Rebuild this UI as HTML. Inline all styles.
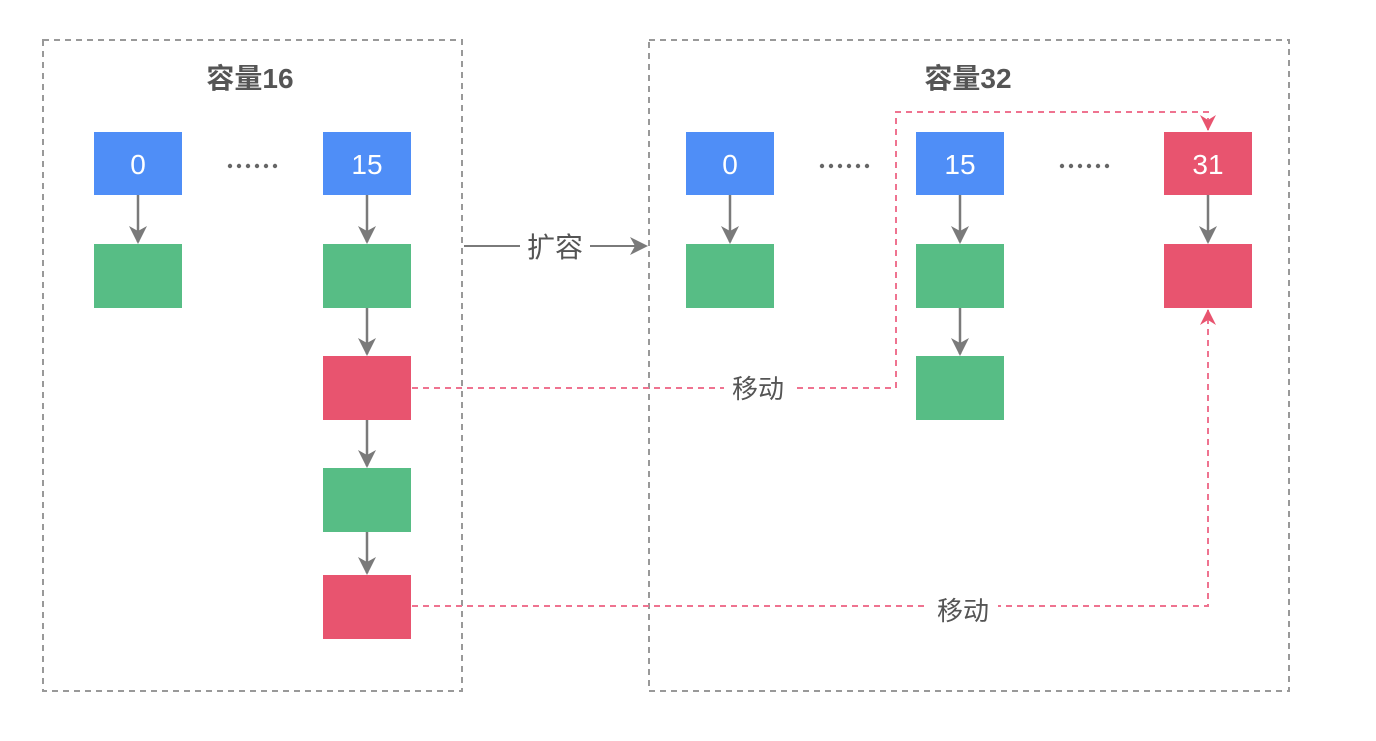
<!DOCTYPE html>
<html><head><meta charset="utf-8"><style>
body{margin:0;background:#fff;}
svg text{font-family:"Liberation Sans","Noto Sans CJK SC",sans-serif;}
</style></head><body>
<svg width="1376" height="736" viewBox="0 0 1376 736" xmlns="http://www.w3.org/2000/svg">
<defs>
<marker id="gb" markerWidth="18" markerHeight="18" refX="16" refY="9" orient="auto" markerUnits="userSpaceOnUse"><path d="M0,0 L18,9 L0,18 L5,9 Z" fill="#7a7a7a"/></marker>
<marker id="pa" markerWidth="16" markerHeight="16" refX="15" refY="8" orient="auto" markerUnits="userSpaceOnUse"><path d="M0,0 L16,8 L0,16 L5,8 Z" fill="#e8546f"/></marker>
<g id="d" fill="#666"><circle cx="0" cy="0" r="2.2"/><circle cx="9" cy="0" r="2.2"/><circle cx="18" cy="0" r="2.2"/><circle cx="27" cy="0" r="2.2"/><circle cx="36" cy="0" r="2.2"/><circle cx="45" cy="0" r="2.2"/></g>
</defs>
<g fill="none" stroke="#999" stroke-width="2" stroke-dasharray="6,5">
<rect x="43" y="40" width="419" height="651"/>
<rect x="649" y="40" width="640" height="651"/>
</g>
<text x="250" y="88" font-size="28" fill="#555" font-weight="bold" text-anchor="middle">容量16</text>
<text x="968" y="88" font-size="28" fill="#555" font-weight="bold" text-anchor="middle">容量32</text>
<g fill="none" stroke="#ef7390" stroke-width="2" stroke-dasharray="6,5">
<path d="M412,388 H896 V112 H1208 V130" marker-end="url(#pa)"/>
<path d="M412,606 H1208 V310" marker-end="url(#pa)"/>
</g>
<rect x="724" y="372" width="70" height="32" fill="#fff"/>
<rect x="928" y="592" width="70" height="32" fill="#fff"/>
<text x="758" y="398" font-size="26" fill="#555" text-anchor="middle">移动</text>
<text x="963" y="620" font-size="26" fill="#555" text-anchor="middle">移动</text>
<g stroke="#7a7a7a" stroke-width="2.5" fill="none">
<line x1="138" y1="195" x2="138" y2="242" marker-end="url(#gb)"/>
<line x1="367" y1="195" x2="367" y2="242" marker-end="url(#gb)"/>
<line x1="367" y1="308" x2="367" y2="354" marker-end="url(#gb)"/>
<line x1="367" y1="420" x2="367" y2="466" marker-end="url(#gb)"/>
<line x1="367" y1="532" x2="367" y2="573" marker-end="url(#gb)"/>
<line x1="730" y1="195" x2="730" y2="242" marker-end="url(#gb)"/>
<line x1="960" y1="195" x2="960" y2="242" marker-end="url(#gb)"/>
<line x1="960" y1="308" x2="960" y2="354" marker-end="url(#gb)"/>
<line x1="1208" y1="195" x2="1208" y2="242" marker-end="url(#gb)"/>
<line x1="464" y1="246" x2="646" y2="246" stroke-width="2" marker-end="url(#gb)"/>
</g>
<rect x="520" y="230" width="70" height="32" fill="#fff"/>
<text x="555" y="257" font-size="28" fill="#555" text-anchor="middle">扩容</text>
<g font-size="28" fill="#fff" text-anchor="middle">
<rect x="94" y="132" width="88" height="63" fill="#4f8ef7"/><text x="138" y="174">0</text>
<rect x="323" y="132" width="88" height="63" fill="#4f8ef7"/><text x="367" y="174">15</text>
<rect x="686" y="132" width="88" height="63" fill="#4f8ef7"/><text x="730" y="174">0</text>
<rect x="916" y="132" width="88" height="63" fill="#4f8ef7"/><text x="960" y="174">15</text>
<rect x="1164" y="132" width="88" height="63" fill="#e8546f"/><text x="1208" y="174">31</text>
</g>
<g>
<rect x="94" y="244" width="88" height="64" fill="#57bd85"/>
<rect x="323" y="244" width="88" height="64" fill="#57bd85"/>
<rect x="323" y="356" width="88" height="64" fill="#e8546f"/>
<rect x="323" y="468" width="88" height="64" fill="#57bd85"/>
<rect x="323" y="575" width="88" height="64" fill="#e8546f"/>
<rect x="686" y="244" width="88" height="64" fill="#57bd85"/>
<rect x="916" y="244" width="88" height="64" fill="#57bd85"/>
<rect x="916" y="356" width="88" height="64" fill="#57bd85"/>
<rect x="1164" y="244" width="88" height="64" fill="#e8546f"/>
</g>
<use href="#d" x="230" y="166"/>
<use href="#d" x="822" y="166"/>
<use href="#d" x="1062" y="166"/>
</svg>
</body></html>
